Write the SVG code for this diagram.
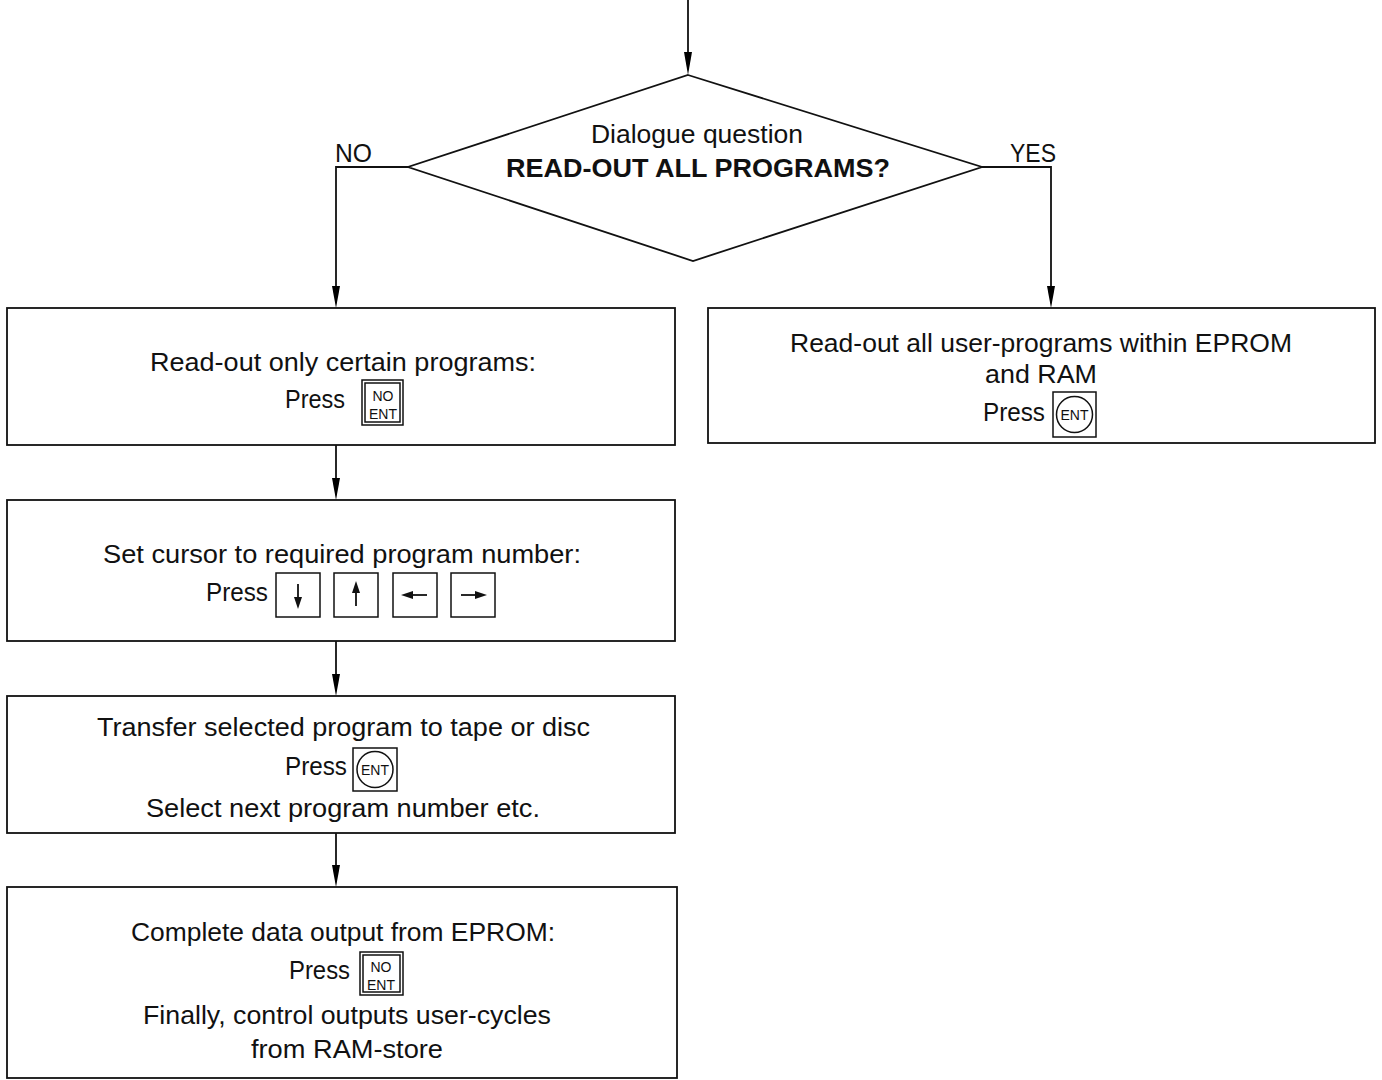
<svg xmlns="http://www.w3.org/2000/svg" width="1382" height="1080" viewBox="0 0 1382 1080">
<style>
text{font-family:"Liberation Sans",Arial,sans-serif;font-size:26px;fill:#111;}
.b{font-weight:bold;}
.box{fill:#fff;stroke:#111;stroke-width:1.8;}
.key{fill:#fff;stroke:#111;stroke-width:1.5;}
.kt{font-size:14px;}
.con{fill:none;stroke:#111;stroke-width:1.8;}
.ah{fill:#000;}
</style>
<rect width="1382" height="1080" fill="#fff"/>
<g id="connectors">
<line class="con" x1="688" y1="0" x2="688" y2="60"/>
<path class="ah" d="M684,52 L688,75 L692,52 Z"/>
<polyline class="con" points="408,167 336,167 336,295"/>
<path class="ah" d="M332,286 L336,308 L340,286 Z"/>
<polyline class="con" points="982,167 1051,167 1051,295"/>
<path class="ah" d="M1047,286 L1051,308 L1055,286 Z"/>
<line class="con" x1="336" y1="445" x2="336" y2="488"/>
<path class="ah" d="M332,478 L336,500 L340,478 Z"/>
<line class="con" x1="336" y1="641" x2="336" y2="684"/>
<path class="ah" d="M332,674 L336,696 L340,674 Z"/>
<line class="con" x1="336" y1="833" x2="336" y2="875"/>
<path class="ah" d="M332,865 L336,887 L340,865 Z"/>
</g>
<g id="decision">
<polygon class="box" points="688,75 982,167 693,261 408,167"/>
<text x="591" y="143" textLength="212" lengthAdjust="spacingAndGlyphs">Dialogue question</text>
<text x="506" y="177" textLength="384" lengthAdjust="spacingAndGlyphs" class="b">READ-OUT ALL PROGRAMS?</text>
<text x="335" y="162" textLength="37" lengthAdjust="spacingAndGlyphs">NO</text>
<text x="1010" y="162" textLength="46" lengthAdjust="spacingAndGlyphs">YES</text>
</g>
<g id="box-certain">
<rect class="box" x="7" y="308" width="668" height="137"/>
<text x="150" y="371" textLength="386" lengthAdjust="spacingAndGlyphs">Read-out only certain programs:</text>
<text x="285" y="408" textLength="60" lengthAdjust="spacingAndGlyphs">Press</text>
<rect class="key" x="362" y="380" width="41" height="45"/>
<rect class="key" x="365" y="383" width="35" height="39" style="fill:none"/>
<text x="383" y="401" text-anchor="middle" class="kt">NO</text>
<text x="383" y="419" text-anchor="middle" class="kt">ENT</text>
</g>
<g id="box-all">
<rect class="box" x="708" y="308" width="667" height="135"/>
<text x="790" y="352" textLength="502" lengthAdjust="spacingAndGlyphs">Read-out all user-programs within EPROM</text>
<text x="985" y="383" textLength="112" lengthAdjust="spacingAndGlyphs">and RAM</text>
<text x="983" y="421" textLength="62" lengthAdjust="spacingAndGlyphs">Press</text>
<rect class="key" x="1053" y="392" width="43" height="45"/>
<circle class="key" cx="1074.5" cy="414.5" r="18"/>
<text x="1074.5" y="419.5" text-anchor="middle" class="kt">ENT</text>
</g>
<g id="box-cursor">
<rect class="box" x="7" y="500" width="668" height="141"/>
<text x="103" y="563" textLength="478" lengthAdjust="spacingAndGlyphs">Set cursor to required program number:</text>
<text x="206" y="601" textLength="62" lengthAdjust="spacingAndGlyphs">Press</text>
<rect class="key" x="276" y="573" width="44" height="44"/>
<line x1="298" y1="584" x2="298" y2="604" stroke="#111" stroke-width="1.8"/>
<path d="M294,597 L298,609 L302,597 Z" fill="#111"/>
<rect class="key" x="334" y="573" width="44" height="44"/>
<line x1="356" y1="586" x2="356" y2="606" stroke="#111" stroke-width="1.8"/>
<path d="M352,593 L356,581 L360,593 Z" fill="#111"/>
<rect class="key" x="393" y="573" width="44" height="44"/>
<line x1="406" y1="595" x2="427" y2="595" stroke="#111" stroke-width="1.8"/>
<path d="M413,591 L401,595 L413,599 Z" fill="#111"/>
<rect class="key" x="451" y="573" width="44" height="44"/>
<line x1="461" y1="595" x2="482" y2="595" stroke="#111" stroke-width="1.8"/>
<path d="M475,591 L487,595 L475,599 Z" fill="#111"/>
</g>
<g id="box-transfer">
<rect class="box" x="7" y="696" width="668" height="137"/>
<text x="97" y="736" textLength="493" lengthAdjust="spacingAndGlyphs">Transfer selected program to tape or disc</text>
<text x="285" y="775" textLength="62" lengthAdjust="spacingAndGlyphs">Press</text>
<rect class="key" x="353" y="748" width="44" height="43"/>
<circle class="key" cx="375" cy="769.5" r="18"/>
<text x="375" y="774.5" text-anchor="middle" class="kt">ENT</text>
<text x="146" y="817" textLength="394" lengthAdjust="spacingAndGlyphs">Select next program number etc.</text>
</g>
<g id="box-complete">
<rect class="box" x="7" y="887" width="670" height="191"/>
<text x="131" y="941" textLength="424" lengthAdjust="spacingAndGlyphs">Complete data output from EPROM:</text>
<text x="289" y="979" textLength="61" lengthAdjust="spacingAndGlyphs">Press</text>
<rect class="key" x="360" y="952" width="43" height="43"/>
<rect class="key" x="363" y="955" width="37" height="37" style="fill:none"/>
<text x="381" y="972" text-anchor="middle" class="kt">NO</text>
<text x="381" y="990" text-anchor="middle" class="kt">ENT</text>
<text x="143" y="1024" textLength="408" lengthAdjust="spacingAndGlyphs">Finally, control outputs user-cycles</text>
<text x="251" y="1058" textLength="192" lengthAdjust="spacingAndGlyphs">from RAM-store</text>
</g>
</svg>
